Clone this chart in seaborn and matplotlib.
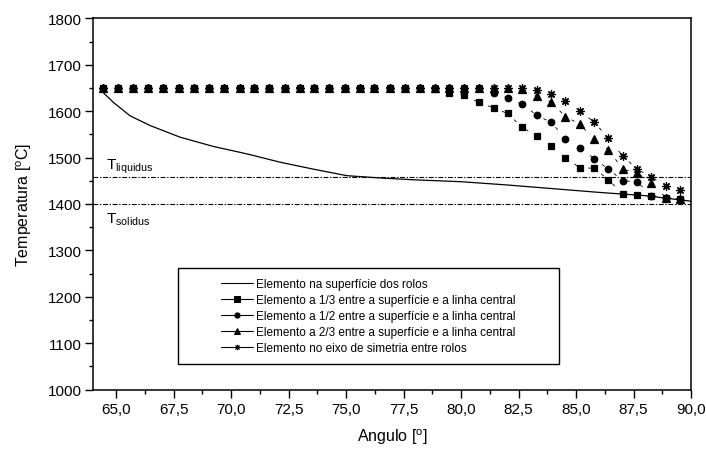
import matplotlib
matplotlib.use("Agg")
import numpy as np
import pandas as pd
import seaborn as sns
import matplotlib.pyplot as plt
from matplotlib.lines import Line2D
from matplotlib.patches import Rectangle
from matplotlib.ticker import MultipleLocator, FuncFormatter

# ---------------- data ----------------
angles = [64.41, 65.09, 65.74, 66.39, 67.05, 67.74, 68.40, 69.05, 69.70, 70.36,
          71.01, 71.66, 72.32, 72.97, 73.62, 74.27, 74.93, 75.58, 76.23, 76.90,
          77.56, 78.22, 78.86, 79.49, 80.13, 80.76, 81.41, 82.02, 82.66, 83.29,
          83.91, 84.54, 85.16, 85.79, 86.41, 87.03, 87.66, 88.28, 88.90, 89.50]

t_third = [1650]*22 + [1648, 1640, 1635, 1619, 1607, 1595, 1565, 1546, 1524, 1500,
                       1478, 1477, 1452, 1422, 1420, 1418, 1414, 1411]
t_half = [1650]*26 + [1640, 1629, 1615, 1591, 1576, 1541, 1521, 1498, 1475, 1450,
                      1448, 1418, 1414, 1411]
t_twothird = [1650]*28 + [1647, 1633, 1620, 1588, 1572, 1539, 1517, 1475, 1467,
                          1445, 1414, 1411]
t_axis = [1650]*29 + [1645, 1637, 1621, 1601, 1576, 1542, 1503, 1475, 1458, 1438, 1431]

surf_x = [64.41, 64.87, 65.60, 66.47, 67.77, 69.22, 70.68, 72.13, 73.58, 75.03,
          76.50, 78.00, 80.00, 82.00, 84.00, 86.00, 88.00, 90.00]
surf_y = [1641, 1619, 1590, 1569, 1544, 1524, 1508, 1490, 1475, 1461,
          1456, 1452, 1448, 1441, 1433, 1425, 1418, 1406]

t_liquidus = 1458
t_solidus = 1400

legend_labels = ["Elemento na superfície dos rolos",
                 "Elemento a 1/3 entre a superfície e a linha central",
                 "Elemento a 1/2 entre a superfície e a linha central",
                 "Elemento a 2/3 entre a superfície e a linha central",
                 "Elemento no eixo de simetria entre rolos"]

# ---------------- style ----------------
sns.set_theme(style="white")
plt.rcParams['font.family'] = ['Liberation Sans', 'DejaVu Sans']
plt.rcParams['mathtext.fontset'] = 'custom'
plt.rcParams['mathtext.rm'] = 'Liberation Sans'
plt.rcParams['mathtext.it'] = 'Liberation Sans:italic'
plt.rcParams['axes.edgecolor'] = 'black'
plt.rcParams['text.color'] = 'black'
plt.rcParams['xtick.color'] = 'black'
plt.rcParams['ytick.color'] = 'black'
plt.rcParams['axes.labelcolor'] = 'black'
plt.rcParams['lines.scale_dashes'] = False

W, H = 706, 452
fig = plt.figure(figsize=(W/100, H/100), dpi=100)
ax = fig.add_axes([93.3/W, 1-390.7/H, 597.7/W, 371.4/H])

dash = (1.2, (2.4, 8.4))
series = [(t_third, 's', 4.4), (t_half, 'o', 4.7), (t_twothird, '^', 5.2), (t_axis, (8, 2, 0), 6.0)]

sns.lineplot(x=surf_x, y=surf_y, ax=ax, color='black', lw=0.9)
for vals, mk, ms in series:
    sns.lineplot(x=angles, y=vals, ax=ax, color='black', lw=0.6, linestyle=dash,
                 marker=mk, markersize=ms, mec='black', mfc='black', mew=0.9)

dd = (0, (3.5, 1.2, 1.0, 1.2))
ax.axhline(t_liquidus, color='black', lw=0.8, linestyle=dd)
ax.axhline(t_solidus, color='black', lw=0.8, linestyle=dd)

ax.text(64.55, 1476, r"T$_{\mathrm{liquidus}}$", fontsize=11, va='baseline')
ax.text(64.55, 1361, r"T$_{\mathrm{solidus}}$", fontsize=11, va='baseline')

ax.set_xlim(64, 90)
ax.set_ylim(1000, 1800)
ax.xaxis.set_major_locator(MultipleLocator(2.5))
ax.xaxis.set_minor_locator(MultipleLocator(1.25))
ax.yaxis.set_major_locator(MultipleLocator(100))
ax.yaxis.set_minor_locator(MultipleLocator(50))
ax.xaxis.set_major_formatter(FuncFormatter(lambda v, p: f"{v:.1f}".replace('.', ',')))
ax.yaxis.set_major_formatter(FuncFormatter(lambda v, p: f"{v:.0f}"))
ax.tick_params(which='both', direction='out', bottom=True, left=True, top=False, right=False,
               width=1.0, colors='black')
ax.tick_params(which='major', length=5.5, labelsize=11, pad=3)
ax.tick_params(which='minor', length=3)
for s in ax.spines.values():
    s.set_linewidth(1.1)
    s.set_color('black')

ax.set_xlabel(r"Angulo [$^{\mathrm{o}}$]", fontsize=11.5, labelpad=8)
ax.set_ylabel(r"Temperatura [$^{\mathrm{o}}$C]", fontsize=11.5, labelpad=10)

# legend box
bx0, bx1 = (177.7-93.3)/597.7, (559.3-93.3)/597.7
by0, by1 = (390.7-365.0)/371.4, (390.7-269.3)/371.4
ax.add_patch(Rectangle((bx0, by0), bx1-bx0, by1-by0, transform=ax.transAxes,
                       facecolor='white', edgecolor='black', lw=1.0, zorder=4))
handles = [Line2D([], [], color='black', lw=0.8)]
for vals, mk, ms in series:
    handles.append(Line2D([], [], color='black', lw=0.8, marker=mk, markersize=3.8,
                          mec='black', mfc='black', mew=0.7))
leg = ax.legend(handles, legend_labels, loc='center',
                bbox_to_anchor=((bx0+bx1)/2, (by0+by1)/2), frameon=False,
                fontsize=8.5, handlelength=2.65, handletextpad=0.3,
                labelspacing=0.34, borderpad=0)
leg.set_zorder(5)

fig.savefig("out.png", dpi=100)
